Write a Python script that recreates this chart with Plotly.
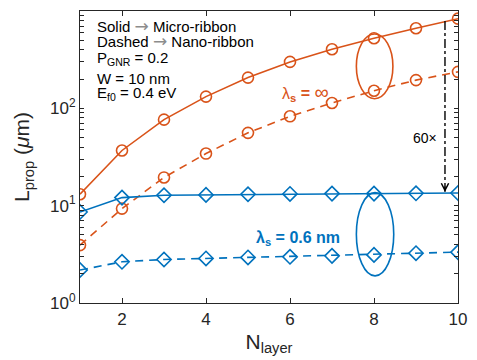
import plotly.graph_objects as go

# Number of graphene layers
n_layer = [1, 2, 3, 4, 5, 6, 7, 8, 9, 10]

# Propagation length (um), lambda_s = infinity
lp_inf_micro = [13.1, 36.9, 76.5, 132, 207, 300, 405, 525, 665, 834]
lp_inf_nano = [3.93, 9.33, 19.5, 34.3, 56, 82.8, 113.5, 151.7, 195, 237]

# Propagation length (um), lambda_s = 0.6 nm
lp_06_micro = [8.6, 12.1, 12.8, 12.9, 13.1, 13.2, 13.3, 13.3, 13.4, 13.5]
lp_06_nano = [2.18, 2.65, 2.80, 2.87, 2.94, 2.98, 3.05, 3.12, 3.25, 3.33]

# Log axis ticks: decades are labelled, intermediate values are bare minor ticks
y_decades = [1, 10, 100, 1000]
y_decade_text = ["10<sup>0</sup>", "10<sup>1</sup>", "10<sup>2</sup>", "10<sup>3</sup>"]
y_minor_vals = [m * d for d in (1, 10, 100) for m in range(2, 10)]
x_tickvals = [2, 4, 6, 8, 10]

ORANGE = "#D95319"
BLUE = "#0072BD"
AXIS = "#262626"
FONT = "Liberation Sans, Arial, Helvetica, sans-serif"

fig = go.Figure()


def add_series(y, color, symbol, dash):
    fig.add_trace(go.Scatter(
        x=n_layer, y=y, mode="lines+markers",
        line=dict(color=color, width=1.6, dash=dash),
        marker=dict(symbol=symbol, size=11, color=color,
                    line=dict(color=color, width=1.6)),
        showlegend=False, hoverinfo="x+y",
    ))


add_series(lp_inf_micro, ORANGE, "circle-open", "solid")
add_series(lp_inf_nano, ORANGE, "circle-open", "8px,6px")
add_series(lp_06_micro, BLUE, "diamond-open", "solid")
add_series(lp_06_nano, BLUE, "diamond-open", "8px,6px")

# Ellipses grouping the two ribbon widths at N = 8
fig.add_shape(type="circle", xref="x", yref="y",
              x0=7.58, x1=8.45, y0=125.6, y1=581,
              line=dict(color=ORANGE, width=1.6))
fig.add_shape(type="circle", xref="x", yref="y",
              x0=7.58, x1=8.47, y0=1.90, y1=13.6,
              line=dict(color=BLUE, width=1.6))

# 60x ratio marker between the micro-ribbon curves at N = 10
fig.add_shape(type="line", xref="x", yref="y",
              x0=9.69, x1=9.69, y0=790, y1=13.9,
              line=dict(color="black", width=1.4, dash="dashdot"))
fig.add_annotation(x=9.69, y=1.14, xref="x", yref="y",
                   ax=0, ay=-7, text="", showarrow=True,
                   arrowhead=5, arrowsize=1.1, arrowwidth=1.3,
                   arrowcolor="black")
fig.add_annotation(x=9.21, y=1.70, xref="x", yref="y",
                   text="60×", showarrow=False,
                   font=dict(family=FONT, size=14, color="black"))

# Curve labels
fig.add_annotation(x=6.36, y=2.16, xref="x", yref="y", showarrow=False,
                   text="λ<sub><b>s</b></sub> <b>=</b> <span style='font-size:20px'>∞</span>",
                   font=dict(family=FONT, size=16, color=ORANGE))
fig.add_annotation(x=6.2, y=0.665, xref="x", yref="y", showarrow=False,
                   text="<b>λ<sub>s</sub> = 0.6 nm</b>",
                   font=dict(family=FONT, size=16, color=BLUE))

# Parameter block in the upper left corner (line centres in pixels from the top)
ARROW = "<span style='color:#8c8c8c;font-family:DejaVu Sans;font-size:17px'>→</span>"
info_lines = [
    (f"Solid {ARROW} Micro-ribbon", 25),
    (f"Dashed {ARROW} Nano-ribbon", 40),
    ("P<sub>GNR</sub> = 0.2", 57.5),
    ("W = 10 nm", 77.5),
    ("E<sub>f0</sub> = 0.4 eV", 93),
]
for txt, ypx in info_lines:
    fig.add_annotation(x=(95 - 80) / 383, y=1 - (ypx - 10) / 293,
                       xref="x domain", yref="y domain",
                       text=txt, showarrow=False, xanchor="left",
                       yanchor="middle",
                       font=dict(family=FONT, size=15, color="black"))

fig.update_layout(
    width=477, height=360,
    margin=dict(l=80, r=14, t=10, b=57),
    paper_bgcolor="white", plot_bgcolor="white",
    font=dict(family=FONT, size=17, color=AXIS),
)
fig.update_xaxes(
    range=[1, 10], tickvals=x_tickvals, ticks="inside", ticklen=5,
    tickcolor=AXIS, tickwidth=1, showline=True, linecolor=AXIS,
    linewidth=1.2, mirror="ticks", showgrid=False, zeroline=False,
    tickfont=dict(family=FONT, size=17, color=AXIS),
    title=dict(text="N<sub>layer</sub>", standoff=6,
               font=dict(family=FONT, size=21, color=AXIS)),
)
y_all = y_decades + y_minor_vals
y_all_text = y_decade_text + [""] * len(y_minor_vals)
fig.update_yaxes(
    type="log", range=[0, 3], tickvals=y_all, ticktext=y_all_text,
    ticks="inside", ticklen=4, tickcolor=AXIS, tickwidth=1,
    showline=True, linecolor=AXIS, linewidth=1.2, mirror="ticks",
    showgrid=False, zeroline=False,
    tickfont=dict(family=FONT, size=17, color=AXIS),
    title=dict(text="L<sub>prop</sub> (<i>μ</i>m)", standoff=14,
               font=dict(family=FONT, size=21, color=AXIS)),
)

fig.write_html("out.html")
